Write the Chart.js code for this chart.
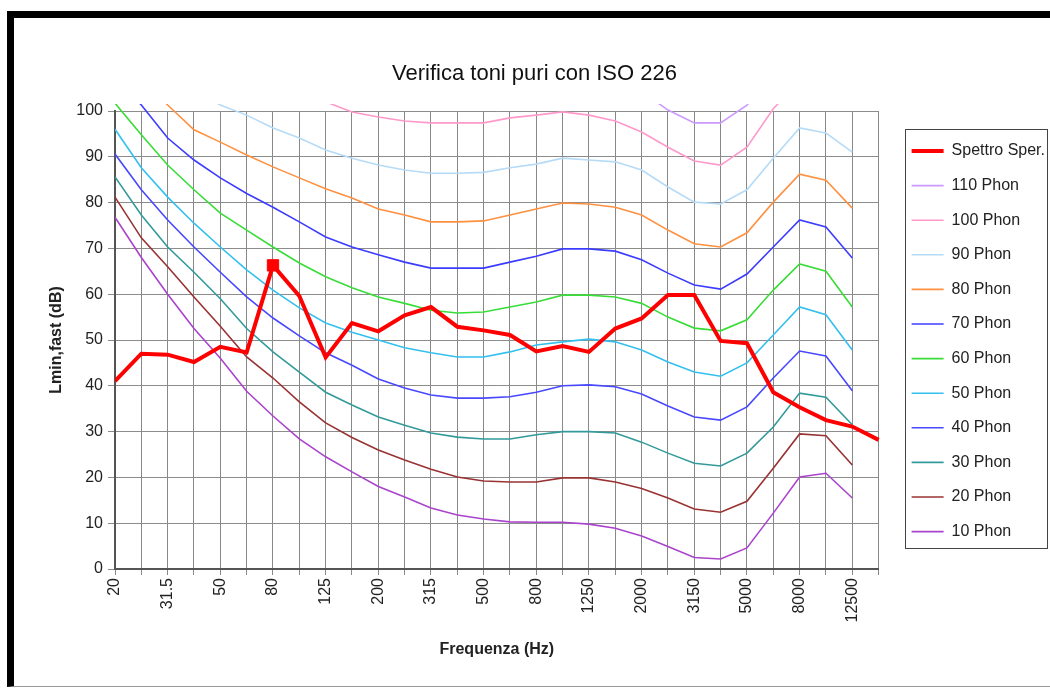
<!DOCTYPE html>
<html>
<head>
<meta charset="utf-8">
<title>Verifica toni puri con ISO 226</title>
<script src="https://cdn.jsdelivr.net/npm/chart.js@4/dist/chart.umd.min.js"></script>
<style>
    html, body { margin: 0; padding: 0; background: #fff; }
    #frame {
        position: absolute; left: 7px; top: 11px;
        width: 1036px; height: 668px;
        border-top: 7px solid #000; border-left: 7px solid #000; border-bottom: 1px solid #999;
    }
    #isoChart { display: block; }
</style>
</head>
<body>
<div id="frame"><canvas id="isoChart" width="1036" height="668"></canvas></div>
<script>
// bande di terzo d'ottava (Hz)
const freqs = ['20', '25', '31.5', '40', '50', '63', '80', '100', '125', '160', '200', '250', '315', '400', '500',
    '630', '800', '1000', '1250', '1600', '2000', '2500', '3150', '4000', '5000', '6300', '8000', '10000', '12500', '16000'];

// spettro misurato, Lmin,fast (dB)
const spettro = [41, 47, 46.8, 45.2, 48.5, 47.3, 66.3, 59.6, 46.2, 53.7, 51.9, 55.4, 57.2, 52.9, 52.1, 51.1,
    47.5, 48.7, 47.4, 52.5, 54.7, 59.8, 59.8, 49.8, 49.3, 38.6, 35.3, 32.5, 31.1, 28.2];
const tonoIdx = 6; // banda con tono puro evidenziato (80 Hz)

// curve isofoniche ISO 226 (dB), null = fuori grafico
const phon110 = [null, null, null, null, null, null, null, null, null, null, null, null, null, null, null, null,
    null, null, null, null, 104.3, 100.2, 97.4, 97.4, 101.3, 108, null, null, null, null];
const phon100 = [null, null, null, null, null, null, null, 105, 102, 99.8, 98.7, 97.8, 97.4, 97.4, 97.4, 98.5,
    99.1, 99.8, 99.1, 97.8, 95.4, 92.1, 89.1, 88.2, 92.1, 100.5, 106.5, null, null, null];
const phon90 = [null, null, null, 104.5, 101.3, 99.1, 96.3, 94.1, 91.5, 89.7, 88.2, 87.1, 86.4, 86.4, 86.6, 87.6,
    88.4, 89.7, 89.3, 88.9, 87.1, 83.4, 80.1, 79.7, 82.8, 89.7, 96.3, 95.2, 91, null];
const phon80 = [null, 107, 101.3, 95.9, 93.2, 90.4, 87.8, 85.4, 83, 81, 78.6, 77.3, 75.8, 75.8, 76, 77.3,
    78.6, 79.9, 79.7, 79, 77.3, 74, 71, 70.3, 73.4, 80.1, 86.2, 84.9, 78.8, null];
const phon70 = [107.5, 101.3, 94.1, 89.3, 85.4, 82, 79, 75.8, 72.5, 70.3, 68.6, 67, 65.7, 65.7, 65.7, 67,
    68.3, 69.9, 69.9, 69.4, 67.5, 64.6, 62, 61.1, 64.4, 70.3, 76.2, 74.7, 67.9, null];
const phon60 = [101.7, 94.8, 88.2, 82.8, 77.7, 74, 70.3, 66.8, 63.8, 61.4, 59.4, 58, 56.5, 55.9, 56.1, 57.2,
    58.3, 59.8, 59.8, 59.4, 58, 55, 52.6, 52, 54.4, 60.9, 66.6, 65, 57.2, null];
const phon50 = [96, 87.6, 81.2, 75.5, 70.3, 65.3, 60.9, 57, 53.7, 51.7, 50, 48.3, 47.2, 46.3, 46.3, 47.4,
    48.9, 49.6, 50.2, 49.6, 47.8, 45.2, 43, 42.1, 45, 51.1, 57.2, 55.5, 47.8, null];
const phon40 = [90.6, 82.8, 76.2, 70.3, 64.8, 59.4, 54.8, 50.9, 47.2, 44.5, 41.5, 39.5, 38, 37.3, 37.3, 37.6,
    38.6, 40, 40.2, 39.8, 38.2, 35.6, 33.2, 32.5, 35.4, 41.7, 47.6, 46.5, 38.9, null];
const phon30 = [85.6, 77.3, 70.3, 64.8, 59, 52.5, 47.4, 43, 38.6, 35.8, 33.2, 31.4, 29.7, 28.8, 28.4, 28.4,
    29.3, 30, 30, 29.7, 27.7, 25.3, 23.1, 22.5, 25.3, 31, 38.4, 37.5, 31.5, null];
const phon20 = [81.2, 72.3, 66, 59.4, 53, 46.3, 41.7, 36.5, 31.9, 28.7, 26, 23.8, 21.8, 20.1, 19.2, 19,
    19, 19.9, 19.9, 19, 17.6, 15.5, 13.1, 12.4, 14.8, 22, 29.5, 29.1, 22.7, null];
const phon10 = [76.8, 68, 60, 52.5, 46, 38.8, 33.4, 28.4, 24.5, 21.2, 18, 15.7, 13.3, 11.8, 10.9, 10.3,
    10.2, 10.2, 9.8, 8.9, 7.2, 4.9, 2.5, 2.2, 4.6, 12.2, 20.1, 20.9, 15.5, null];

const yTicks = [0, 10, 20, 30, 40, 50, 60, 70, 80, 90, 100];

const FONT = "'Liberation Sans', Arial, sans-serif";
Chart.defaults.font.family = FONT;
Chart.defaults.color = '#222';

function curva(label, data, color) {
    return {
        label, data,
        borderColor: color, backgroundColor: color,
        borderWidth: 1.6, pointRadius: 0, pointHoverRadius: 0,
        clip: { left: 0, top: 7, right: 2, bottom: 2 }
    };
}

// cornice della legenda (Chart.js non la disegna)
const legendFrame = {
    id: 'legendFrame',
    afterDraw(chart) {
        const hb = chart.legend && chart.legend.legendHitBoxes;
        if (!hb || !hb.length) return;
        const first = hb[0], last = hb[hb.length - 1];
        const x0 = Math.round(first.left - 7) + 0.5;
        const y0 = Math.round(first.top - 14) + 0.5;
        const x1 = chart.width - 2.5;
        const y1 = Math.round(last.top + last.height + 8) + 0.5;
        const ctx = chart.ctx;
        ctx.save();
        ctx.strokeStyle = '#444';
        ctx.lineWidth = 1;
        ctx.strokeRect(x0, y0, x1 - x0, y1 - y0);
        ctx.restore();
    }
};

new Chart(document.getElementById('isoChart'), {
    type: 'line',
    data: {
        labels: freqs,
        datasets: [
            {
                label: 'Spettro Sper.', data: spettro,
                borderColor: '#ff0000', backgroundColor: '#ff0000', borderWidth: 4,
                pointStyle: 'rect',
                pointRadius: spettro.map((v, i) => i === tonoIdx ? 8 : 0),
                pointBorderWidth: 1, pointBorderColor: '#ff0000',
                clip: { left: 0, top: 7, right: 3, bottom: 2 }
            },
            curva('110 Phon', phon110, '#cc99ff'),
            curva('100 Phon', phon100, '#ff99cc'),
            curva('90 Phon', phon90, '#b5dbf7'),
            curva('80 Phon', phon80, '#ff9040'),
            curva('70 Phon', phon70, '#3c3cff'),
            curva('60 Phon', phon60, '#38dd38'),
            curva('50 Phon', phon50, '#33c0ef'),
            curva('40 Phon', phon40, '#4848ff'),
            curva('30 Phon', phon30, '#339a9a'),
            curva('20 Phon', phon20, '#993333'),
            curva('10 Phon', phon10, '#aa44cc')
        ]
    },
    options: {
        responsive: false,
        animation: false,
        layout: { padding: { left: 0, top: 5, right: -5, bottom: 26.4 } },
        elements: { line: { tension: 0 } },
        plugins: {
            title: {
                display: true,
                text: 'Verifica toni puri con ISO 226',
                font: { size: 22, weight: 'normal' },
                color: '#111',
                padding: { top: 37.8, bottom: 23.8 }
            },
            legend: {
                position: 'right',
                labels: {
                    usePointStyle: true, pointStyle: 'line', pointStyleWidth: 32,
                    padding: 18.6,
                    font: { size: 16 }, color: '#222',
                    generateLabels: chart => Chart.defaults.plugins.legend.labels.generateLabels(chart).map(item => {
                        const ds = chart.data.datasets[item.datasetIndex];
                        item.strokeStyle = ds.borderColor;
                        item.fillStyle = ds.borderColor;
                        item.lineWidth = ds.borderWidth;
                        return item;
                    })
                }
            },
            tooltip: { enabled: false }
        },
        scales: {
            x: {
                offset: false,
                grid: { color: '#888', lineWidth: 1, tickLength: 6, offset: false },
                border: { color: '#555', width: 2 },
                ticks: {
                    autoSkip: false, minRotation: 90, maxRotation: 90, padding: 3,
                    font: { size: 16 }, color: '#222',
                    callback: (v, i) => i % 2 === 0 ? freqs[i] : ''
                },
                title: {
                    display: true, text: 'Frequenza (Hz)',
                    font: { size: 16, weight: 'bold' }, color: '#222',
                    padding: { top: 4, bottom: 0 }
                },
                afterFit: s => { s.height = 90.6; }
            },
            y: {
                min: 0, max: 100,
                afterBuildTicks: s => { s.ticks = yTicks.map(v => ({ value: v })); },
                grid: { color: '#8c8c8c', lineWidth: 1, tickLength: 7 },
                border: { color: '#555', width: 2 },
                ticks: { padding: 5, font: { size: 16 }, color: '#222' },
                title: {
                    display: true, text: 'Lmin,fast (dB)',
                    font: { size: 16, weight: 'bold' }, color: '#222',
                    padding: { top: 33.4, bottom: 0 }
                },
                afterFit: s => { s.width = 101; }
            },
            spazio: {
                position: 'right', min: 0, max: 1,
                grid: { display: false }, border: { display: false },
                ticks: { display: false },
                afterFit: s => { s.width = 14.4; }
            }
        }
    },
    plugins: [legendFrame]
});
</script>
</body>
</html>
